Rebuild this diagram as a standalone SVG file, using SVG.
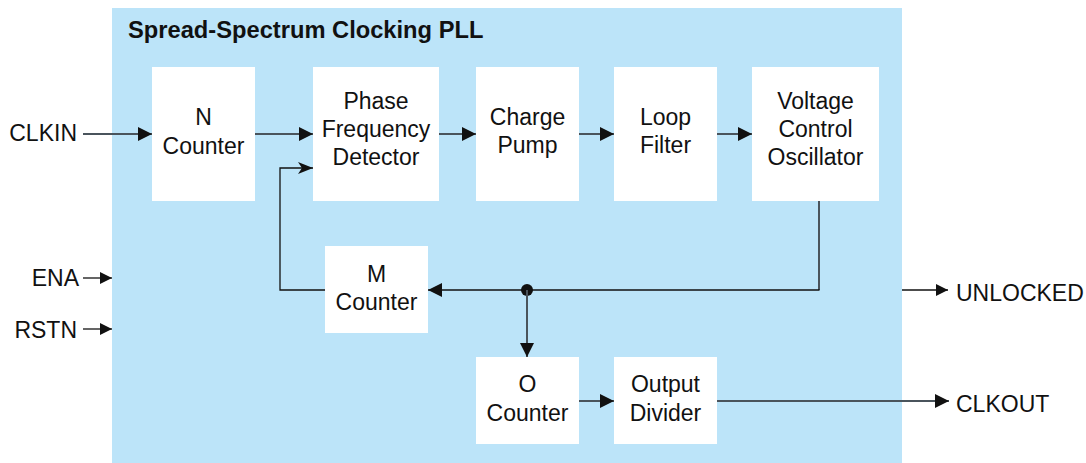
<svg xmlns="http://www.w3.org/2000/svg" width="1086" height="463" viewBox="0 0 1086 463">
  <style>
    .box { fill: #ffffff; }
    .t { font-family: "Liberation Sans", Arial, sans-serif; font-size: 23px; fill: #111111; text-anchor: middle; }
    .lab { font-family: "Liberation Sans", Arial, sans-serif; font-size: 23px; fill: #111111; }
    .title { font-family: "Liberation Sans", Arial, sans-serif; font-size: 23.7px; font-weight: bold; fill: #111111; }
    .main { fill: none; stroke: #4a545c; stroke-width: 2; }
    .thin { fill: none; stroke: #111111; stroke-width: 1.3; }
  </style>
  <defs>
    <marker id="arr" markerUnits="userSpaceOnUse" markerWidth="14" markerHeight="14" refX="14" refY="7" orient="auto">
      <path d="M0,0 L14,7 L0,14 z" fill="#111111"/>
    </marker>
    <marker id="arrS" markerUnits="userSpaceOnUse" markerWidth="12" markerHeight="12" refX="12" refY="6" orient="auto">
      <path d="M0,0 L12,6 L0,12 z" fill="#111111"/>
    </marker>
    <marker id="arrC" markerUnits="userSpaceOnUse" markerWidth="15" markerHeight="12" refX="15" refY="6" orient="auto">
      <path d="M0,0 L15,6 L0,12 L4,6 z" fill="#111111"/>
    </marker>
  </defs>

  <rect id="panel" x="112" y="8" width="790" height="455" fill="#bce4f9"/>
  <text class="title" x="128" y="38">Spread-Spectrum Clocking PLL</text>

  <g id="n-counter">
    <rect class="box" x="152" y="67" width="103" height="134"/>
    <text class="t" x="203.5" y="125">N</text>
    <text class="t" x="203.5" y="154">Counter</text>
  </g>
  <g id="pfd">
    <rect class="box" x="313" y="67" width="126" height="134"/>
    <text class="t" x="376" y="109">Phase</text>
    <text class="t" x="376" y="137">Frequency</text>
    <text class="t" x="376" y="165">Detector</text>
  </g>
  <g id="charge-pump">
    <rect class="box" x="476" y="67" width="103" height="134"/>
    <text class="t" x="527.5" y="125">Charge</text>
    <text class="t" x="527.5" y="153">Pump</text>
  </g>
  <g id="loop-filter">
    <rect class="box" x="614" y="67" width="103" height="134"/>
    <text class="t" x="665.5" y="125">Loop</text>
    <text class="t" x="665.5" y="153">Filter</text>
  </g>
  <g id="vco">
    <rect class="box" x="752" y="67" width="127" height="134"/>
    <text class="t" x="815.5" y="109">Voltage</text>
    <text class="t" x="815.5" y="137">Control</text>
    <text class="t" x="815.5" y="165">Oscillator</text>
  </g>
  <g id="m-counter">
    <rect class="box" x="325" y="246" width="103" height="87"/>
    <text class="t" x="376.5" y="282">M</text>
    <text class="t" x="376.5" y="310">Counter</text>
  </g>
  <g id="o-counter">
    <rect class="box" x="476" y="357" width="103" height="87"/>
    <text class="t" x="527.5" y="392">O</text>
    <text class="t" x="527.5" y="421">Counter</text>
  </g>
  <g id="output-divider">
    <rect class="box" x="614" y="357" width="103" height="87"/>
    <text class="t" x="665.5" y="392">Output</text>
    <text class="t" x="665.5" y="421">Divider</text>
  </g>

  <g id="io-labels">
    <text class="lab" x="77" y="141" text-anchor="end">CLKIN</text>
    <text class="lab" x="79" y="286" text-anchor="end">ENA</text>
    <text class="lab" x="77" y="338" text-anchor="end">RSTN</text>
    <text class="lab" x="956" y="301">UNLOCKED</text>
    <text class="lab" x="956" y="412">CLKOUT</text>
  </g>

  <g id="connectors">
    <line class="main" x1="83" y1="134" x2="152" y2="134" marker-end="url(#arr)"/>
    <line class="main" x1="255" y1="134" x2="313" y2="134" marker-end="url(#arr)"/>
    <line class="main" x1="439" y1="134" x2="476" y2="134" marker-end="url(#arr)"/>
    <line class="main" x1="579" y1="134" x2="614" y2="134" marker-end="url(#arr)"/>
    <line class="main" x1="717" y1="134" x2="752" y2="134" marker-end="url(#arr)"/>
    <line class="main" x1="819" y1="201" x2="819" y2="290"/>
    <polyline class="thin" points="819.5,290 428,290" marker-end="url(#arr)"/>
    <polyline class="thin" points="325,290 280,290 280,168 313,168" marker-end="url(#arrC)"/>
    <circle cx="527" cy="290" r="6" fill="#111111"/>
    <line class="main" x1="527" y1="290" x2="527" y2="357" marker-end="url(#arr)"/>
    <line class="main" x1="579" y1="401" x2="614" y2="401" marker-end="url(#arr)"/>
    <line class="main" x1="717" y1="401" x2="949" y2="401" marker-end="url(#arr)"/>
    <line class="thin" x1="83" y1="278" x2="112" y2="278" marker-end="url(#arrS)"/>
    <line class="thin" x1="83" y1="329" x2="112" y2="329" marker-end="url(#arrS)"/>
    <line class="thin" x1="902" y1="290" x2="948" y2="290" marker-end="url(#arrS)"/>
  </g>
</svg>
